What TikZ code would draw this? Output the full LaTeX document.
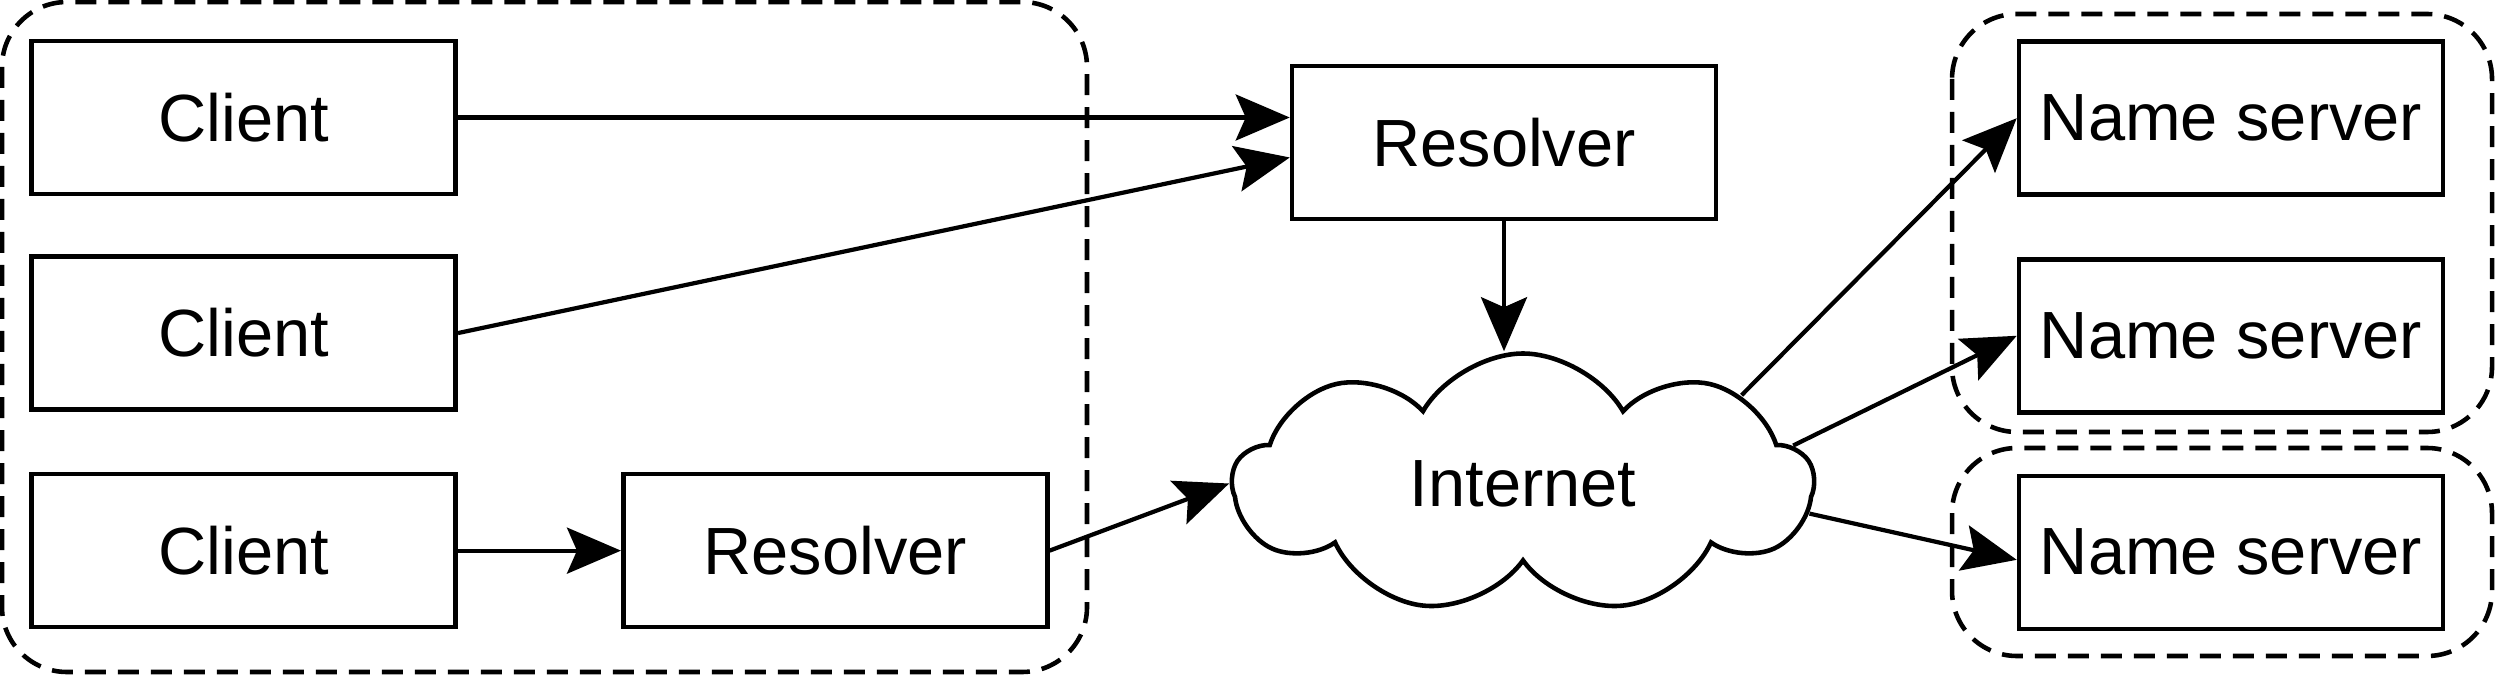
\documentclass[tikz,border=0pt]{standalone}
\usepackage{fontspec}
\setmainfont{Liberation Sans}
\usetikzlibrary{arrows.meta,shapes.symbols,positioning}

\begin{document}
\begin{tikzpicture}
    [box/.style={draw, line width=1.3pt, minimum width=4.24cm, minimum height=1.53cm,
      font=\fontsize{19}{23}\selectfont},
    group/.style={draw, line width=1.3pt, dash pattern=on 2.1mm off 1.2mm, rounded corners=6.5mm},
    link/.style={-{Stealth[length=5.4mm, width=4.6mm, inset=1mm]}, line width=1.2pt},
    net/.style={draw, cloud, cloud puffs=9, cloud puff arc=120, aspect=2.2, line width=1.3pt,
      minimum width=5.8cm, minimum height=2.6cm, font=\fontsize{19}{23}\selectfont}]
    \useasboundingbox (0,0) rectangle (24.95,-6.76);
    % clients and their resolvers
    \node[box] (cl1) at (2.437,-1.175) {Client};
    \node[box, below=0.58cm of cl1] (cl2) {Client};
    \node[box, below=0.6cm of cl2] (cl3) {Client};
    \node[box, right=1.63cm of cl3] (res2) {Resolver};
    \node[box] (res1) at (15.04,-1.425) {Resolver};
    \node[net] (inet) at (15.23,-4.835) {Internet};
    % name servers
    \node[box] (ns1) at (22.31,-1.182) {Name server};
    \node[box, below=0.6cm of ns1] (ns2) {Name server};
    \node[box, below=0.59cm of ns2] (ns3) {Name server};
    \draw[group] (0.02,-0.02) rectangle (10.87,-6.72);
    \draw[group] (19.52,-0.14) rectangle (24.92,-4.32);
    \draw[group] (19.52,-4.48) rectangle (24.92,-6.56);
    \draw[link] (cl1.east) -- (cl1.east -| res1.west);
    \draw[link] (cl2.east) -- (res1.184);
    \draw[link] (cl3) -- (res2);
    \draw[link] (res2.east) -- (inet.west);
    \draw[link] (res1) -- (res1 |- inet.north);
    \draw[link] (inet.22) -- (ns1.west);
    \draw[link] (inet.8) -- (ns2.west);
    \draw[link] (inet.-6) -- (ns3.182);
\end{tikzpicture}
\end{document}
